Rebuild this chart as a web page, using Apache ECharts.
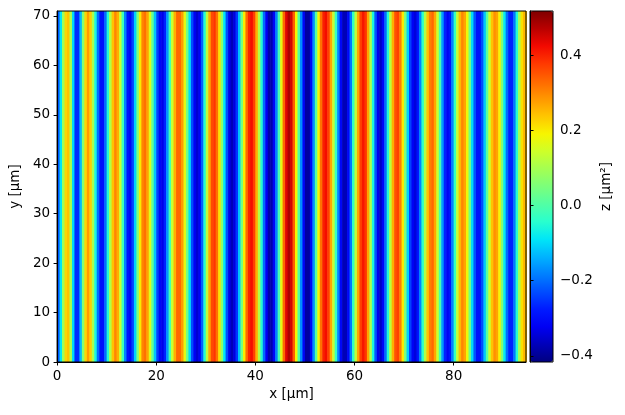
<!DOCTYPE html>
<html>
<head>
<meta charset="utf-8">
<script src="https://cdn.jsdelivr.net/npm/echarts@6/dist/echarts.min.js"></script>
<style>
html, body { margin: 0; padding: 0; background: #fff; }
#chart { width: 625px; height: 415px; }
</style>
</head>
<body>
<div id="chart"></div>
<script>
// plot extents (µm) and colour range (µm²)
var xMax = 94.6;
var yMax = 71;
var zMin = -0.416;
var zMax = 0.517;
var cbTicks = [-0.4, -0.2, 0, 0.2, 0.4];

// z profile along x, one value per 0.5 µm cell (the pattern does not change with y)
var cellWidth = 0.5;
var profileZ = [
    -0.22, -0.09, 0.09, 0.22, 0.24, 0.11, -0.10, -0.26, -0.26, -0.13,
    0.06, 0.22, 0.28, 0.23, 0.10, -0.06, -0.20, -0.29, -0.29, -0.20,
    -0.05, 0.11, 0.24, 0.30, 0.26, 0.14, -0.02, -0.18, -0.29, -0.31,
    -0.24, -0.11, 0.05, 0.20, 0.30, 0.32, 0.27, 0.16, 0.02, -0.12,
    -0.24, -0.31, -0.33, -0.27, -0.16, -0.01, 0.14, 0.26, 0.33, 0.33,
    0.28, 0.17, 0.04, -0.10, -0.23, -0.32, -0.35, -0.32, -0.21, -0.05,
    0.12, 0.27, 0.36, 0.38, 0.32, 0.21, 0.07, -0.09, -0.23, -0.33,
    -0.37, -0.34, -0.25, -0.12, 0.04, 0.20, 0.33, 0.40, 0.42, 0.37,
    0.26, 0.11, -0.05, -0.20, -0.32, -0.38, -0.38, -0.31, -0.18, -0.01,
    0.17, 0.33, 0.44, 0.48, 0.45, 0.34, 0.19, 0.00, -0.17, -0.31,
    -0.39, -0.39, -0.31, -0.17, 0.01, 0.19, 0.32, 0.40, 0.42, 0.37,
    0.27, 0.13, -0.03, -0.18, -0.31, -0.37, -0.37, -0.31, -0.19, -0.03,
    0.13, 0.27, 0.37, 0.41, 0.38, 0.27, 0.11, -0.06, -0.22, -0.33,
    -0.36, -0.31, -0.20, -0.05, 0.12, 0.26, 0.35, 0.37, 0.31, 0.20,
    0.05, -0.11, -0.24, -0.32, -0.34, -0.29, -0.18, -0.04, 0.11, 0.24,
    0.31, 0.33, 0.27, 0.14, -0.01, -0.16, -0.27, -0.32, -0.29, -0.18,
    -0.03, 0.13, 0.25, 0.30, 0.27, 0.18, 0.04, -0.10, -0.22, -0.29,
    -0.29, -0.23, -0.12, 0.01, 0.14, 0.24, 0.29, 0.27, 0.19, 0.06,
    -0.08, -0.20, -0.27, -0.27, -0.19, -0.05, 0.10, 0.21, 0.25, 0.24
];

// matplotlib "jet"
var jet = [
    '#000080', '#0000b9', '#0000f3', '#001aff', '#004dff', '#0080ff', '#00b3ff',
    '#00e6f7', '#29ffce', '#52ffa4', '#7bff7b', '#a4ff52', '#ceff29', '#f7f500',
    '#ffc600', '#ff9700', '#ff6800', '#ff3900', '#f30900', '#b90000', '#800000'
];

var cells = [];
profileZ.forEach(function (z, i) {
    cells.push([i * cellWidth, (i + 1) * cellWidth, z]);
});

function fmt(v) {
    return v < 0 ? '\u2212' + Math.abs(v).toFixed(1) : v.toFixed(1);
}

var font = 'DejaVu Sans';
var labelStyle = { color: '#000', fontFamily: font, fontSize: 13.5 };
var nameStyle = { color: '#000', fontFamily: font, fontSize: 13.5 };
var blackLine = { show: true, lineStyle: { color: '#000', width: 1 } };

var myChart = echarts.init(document.getElementById('chart'));
var option = {
    animation: false,
    grid: [
        { left: 57, top: 11, width: 469, height: 351, show: true, borderColor: '#000', borderWidth: 1, z: 5 },
        { left: 530, top: 11, width: 23, height: 351, show: true, borderColor: '#000', borderWidth: 1, z: 6 }
    ],
    xAxis: [
        {
            gridIndex: 0, type: 'value', min: 0, max: xMax, interval: 20,
            name: 'x [µm]', nameLocation: 'middle', nameGap: 25, nameTextStyle: nameStyle,
            axisLine: blackLine, z: 5,
            axisTick: { show: true, length: 3.5, lineStyle: { color: '#000' } },
            axisLabel: Object.assign({ margin: 7, showMaxLabel: false }, labelStyle),
            splitLine: { show: false }
        },
        { gridIndex: 1, type: 'value', min: 0, max: 1, show: false }
    ],
    yAxis: [
        {
            gridIndex: 0, type: 'value', min: 0, max: yMax, interval: 10,
            name: 'y [µm]', nameLocation: 'middle', nameGap: 34, nameRotate: 90, nameTextStyle: nameStyle,
            axisLine: blackLine, z: 5,
            axisTick: { show: true, length: 3.5, lineStyle: { color: '#000' } },
            axisLabel: Object.assign({ margin: 7, showMaxLabel: false }, labelStyle),
            splitLine: { show: false }
        },
        {
            gridIndex: 1, type: 'value', position: 'right', min: zMin, max: zMax,
            name: 'z [µm²]', nameLocation: 'middle', nameGap: 46, nameRotate: 90, nameTextStyle: nameStyle,
            axisLine: blackLine, z: 6,
            axisTick: { show: true, length: 3.5, lineStyle: { color: '#000' }, customValues: cbTicks },
            axisLabel: Object.assign({ margin: 7, customValues: cbTicks, formatter: fmt }, labelStyle),
            splitLine: { show: false }
        }
    ],
    visualMap: {
        type: 'continuous',
        min: zMin,
        max: zMax,
        dimension: 2,
        seriesIndex: 0,
        left: 530,
        top: 11,
        itemWidth: 23,
        itemHeight: 351,
        padding: 0,
        calculable: false,
        hoverLink: false,
        inRange: { color: jet }
    },
    series: [
        {
            type: 'custom',
            xAxisIndex: 0,
            yAxisIndex: 0,
            silent: true,
            clip: true,
            encode: { x: [0, 1] },
            data: cells,
            renderItem: function (params, api) {
                var a = api.coord([api.value(0), yMax]);
                var b = api.coord([api.value(1), 0]);
                return {
                    type: 'rect',
                    shape: { x: a[0], y: a[1], width: b[0] - a[0] + 0.6, height: b[1] - a[1] },
                    style: { fill: api.visual('color') }
                };
            }
        }
    ]
};
option && myChart.setOption(option);
</script>
</body>
</html>
